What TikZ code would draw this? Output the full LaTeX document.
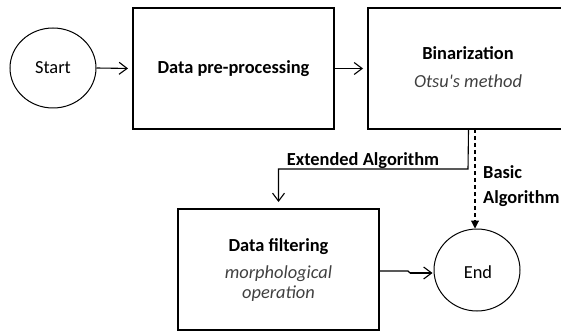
\documentclass[tikz,border=0pt]{standalone}
\usepackage{fontspec}
\setmainfont{Carlito}
\usetikzlibrary{arrows.meta,shapes.geometric}
\begin{document}
\begin{tikzpicture}[x=1pt,y=-1pt,
  box/.style={draw,line width=2pt,minimum width=201pt,minimum height=121pt,inner sep=0pt},
  term/.style={draw,line width=1pt,ellipse,inner sep=0pt},
  txt/.style={anchor=base,inner sep=0pt,font=\fontsize{18.4}{22}\selectfont},
  btxt/.style={txt,font=\fontsize{18.4}{22}\selectfont\bfseries},
  itxt/.style={txt,font=\fontsize{18.4}{22}\selectfont\itshape,text=black!75},
  arr/.style={line width=1.1pt,-{Straight Barb[length=8pt,width=12pt,line width=1.1pt]}},
  darr/.style={line width=1.1pt,dash pattern=on 4pt off 3pt,-{Triangle[length=8pt,width=8pt]}}
]
\useasboundingbox (0,0) rectangle (561,331);
\clip (0,0) rectangle (561,331);
\node[term,minimum width=86pt,minimum height=80pt] (start) at (53,68) {};
\node[box] (pre) at (233.5,68.5) {};
\node[box] (bin) at (468.5,68.5) {};
\node[box] (filt) at (278.5,269.5) {};
\node[term,minimum width=86pt,minimum height=82pt] (end) at (477,270) {};

\node[txt] (tstart) at (53,74) {Start};
\node[txt] (tend) at (478,278) {End};
\node[btxt] (tpre) at (233.5,74) {Data pre-processing};
\node[btxt] (tbin) at (468,60) {Binarization};
\node[itxt] (totsu) at (468,88) {Otsu\textquotesingle s method};
\node[btxt] (tfilt) at (278.5,251) {Data filtering};
\node[itxt] (tmorph) at (278.5,278) {morphological};
\node[itxt] (toper) at (278.5,298) {operation};
\node[btxt] (text) at (363,165) {Extended Algorithm};
\node[btxt,anchor=base west] (tbasic) at (483,178) {Basic};
\node[btxt,anchor=base west] (talg) at (483,203) {Algorithm};

\coordinate (bend) at (468,169);
\coordinate (dtop) at (475,129);
\coordinate (jog1) at (408,271);
\coordinate (jog2) at (410,273);

\draw[arr,shorten >=4pt] (start.east) -- (pre.west);
\draw[arr,shorten >=4pt] (pre.east) -- (bin.west);
\draw[arr,shorten >=6pt] (bin.south) -- (bend) -| (filt.north);
\draw[darr] (dtop) -- (dtop |- end.north);
\draw[line width=1.1pt] (filt.east |- jog1) -- (jog1) -- (jog2);
\draw[arr,shorten >=1pt] (jog2) -- (jog2 -| end.west);
\end{tikzpicture}
\end{document}
